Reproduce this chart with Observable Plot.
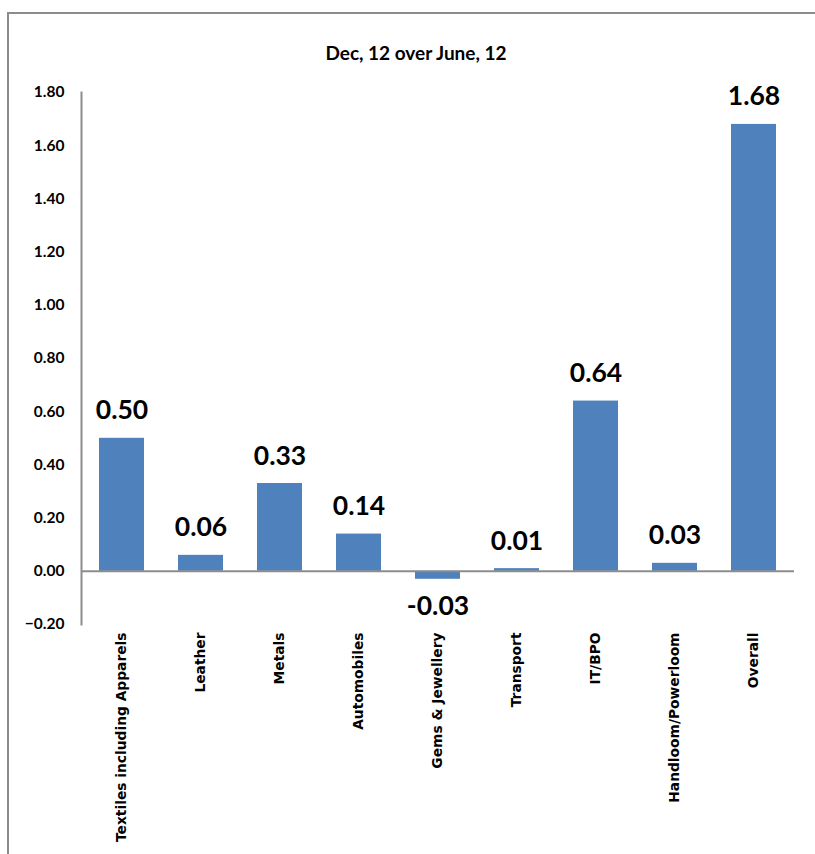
<!DOCTYPE html>
<html>
<head>
<meta charset="utf-8">
<script src="https://cdn.jsdelivr.net/npm/d3@7"></script>
<script src="https://cdn.jsdelivr.net/npm/@observablehq/plot@0.6"></script>
<style>
  html, body { margin: 0; padding: 0; background: #fff; }
  #wrap { position: relative; width: 815px; height: 854px; overflow: hidden; }
  #border { position: absolute; left: 7px; top: 12px; width: 900px; height: 900px;
            border: 2px solid #8c8c8c; box-sizing: border-box; pointer-events: none; }
</style>
</head>
<body>
<div id="wrap"><div id="border"></div></div>
<script>
const title = "Dec, 12 over June, 12";
const sectors = ["Textiles including Apparels", "Leather", "Metals", "Automobiles",
  "Gems & Jewellery", "Transport", "IT/BPO", "Handloom/Powerloom", "Overall"];
const changes = [0.50, 0.06, 0.33, 0.14, -0.03, 0.01, 0.64, 0.03, 1.68];
const yTicks = [-0.2, 0, 0.2, 0.4, 0.6, 0.8, 1.0, 1.2, 1.4, 1.6, 1.8];

const data = sectors.map((s, i) => ({sector: s, value: changes[i]}));
const pos = data.filter(d => d.value >= 0);
const neg = data.filter(d => d.value < 0);

const chart = Plot.plot({
  width: 815,
  height: 854,
  marginLeft: 81,
  marginRight: 21,
  marginTop: 92,
  marginBottom: 230,
  style: {fontFamily: "'DejaVu Sans', sans-serif", background: "transparent", overflow: "visible"},
  x: {domain: sectors, paddingInner: 0.43, paddingOuter: 0.215, label: null},
  y: {domain: [-0.2, 1.8], label: null},
  marks: [
    Plot.barY(data, {x: "sector", y: "value", fill: "#4F81BD"}),
    Plot.ruleY([0], {stroke: "#8c8c8c", strokeWidth: 2}),
    Plot.frame({anchor: "left", stroke: "#8c8c8c", strokeWidth: 2}),
    Plot.axisY({ticks: yTicks, tickFormat: d3.format(".2f"), tickSize: 0, tickPadding: 17,
      fontSize: 15.5, fontWeight: "bold", fill: "#000", fontFamily: "Lato, sans-serif"}),
    Plot.axisX({tickRotate: -90, tickSize: 0, tickPadding: 8, fontSize: 13.8,
      fontWeight: "bold", fill: "#000"}),
    Plot.text(pos, {x: "sector", y: "value", text: d => d.value.toFixed(2),
      lineAnchor: "bottom", dy: -19, fontSize: 26.5, fontWeight: "bold", fill: "#000",
      fontFamily: "Lato, sans-serif"}),
    Plot.text(neg, {x: "sector", y: "value", text: d => d.value.toFixed(2),
      lineAnchor: "top", dy: 17, fontSize: 26.5, fontWeight: "bold", fill: "#000",
      fontFamily: "Lato, sans-serif"}),
    Plot.text([title], {frameAnchor: "top", dx: -22, dy: -46, fontSize: 19, fontWeight: "bold",
      fill: "#000", fontFamily: "Lato, sans-serif"})
  ]
});
chart.style.position = "absolute";
chart.style.left = "0px";
chart.style.top = "0px";
document.getElementById("wrap").appendChild(chart);
</script>
</body>
</html>
